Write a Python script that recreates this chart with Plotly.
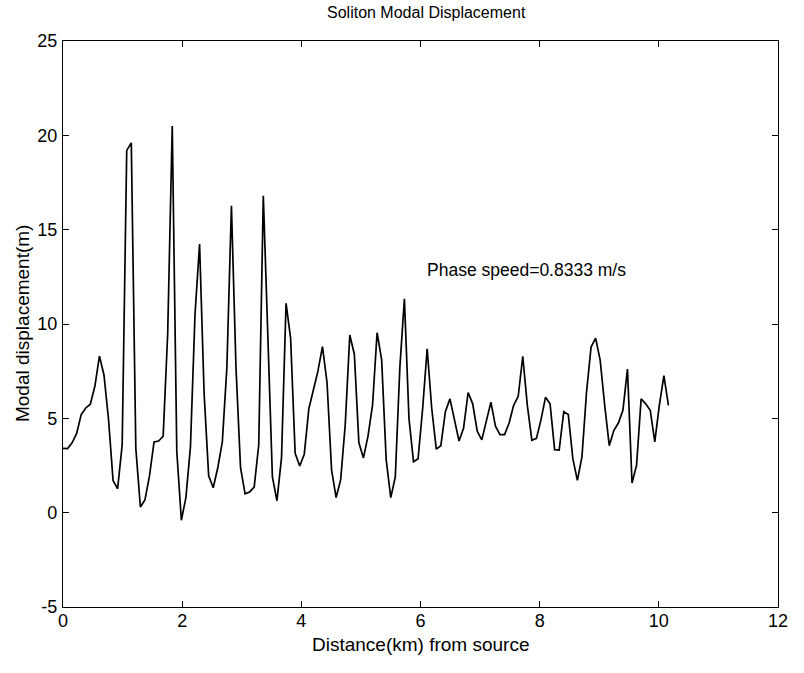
import plotly.graph_objects as go

# ---- data ----
step_km = 0.0764
displacement_m = [
    3.41, 3.40, 3.70, 4.20, 5.20, 5.55, 5.75, 6.70, 8.30, 7.30,
    4.95, 1.70, 1.27, 3.60, 19.20, 19.60, 3.40, 0.30, 0.67, 1.95,
    3.75, 3.80, 4.05, 9.50, 20.50, 3.24, -0.40, 0.80, 3.50, 10.50,
    14.24, 6.30, 1.95, 1.32, 2.38, 3.75, 7.70, 16.26, 7.70, 2.38,
    1.00, 1.10, 1.35, 3.60, 16.80, 9.40, 1.90, 0.63, 2.90, 11.10,
    9.24, 3.15, 2.47, 3.10, 5.50, 6.50, 7.50, 8.80, 6.90, 2.26,
    0.80, 1.75, 4.66, 9.42, 8.40, 3.70, 2.90, 4.06, 5.70, 9.54,
    8.10, 2.80, 0.80, 1.90, 7.70, 11.34, 5.00, 2.70, 2.86, 5.50,
    8.69, 5.52, 3.37, 3.55, 5.35, 6.03, 5.00, 3.80, 4.49, 6.37,
    5.77, 4.32, 3.86, 4.83, 5.86, 4.58, 4.14, 4.14, 4.75, 5.69,
    6.17, 8.29, 5.69, 3.84, 3.94, 4.92, 6.12, 5.77, 3.34, 3.32,
    5.35, 5.20, 2.86, 1.71, 2.95, 6.37, 8.77, 9.25, 8.09, 5.69,
    3.55, 4.35, 4.75, 5.43, 7.61, 1.57, 2.52, 6.03, 5.77, 5.43,
    3.75, 5.69, 7.26, 5.69,
]
distance_km = [round(i * step_km, 4) for i in range(len(displacement_m))]

x_tick_vals = [0, 2, 4, 6, 8, 10, 12]
x_tick_text = ["0", "2", "4", "6", "8", "10", "12"]
y_tick_vals = [-5, 0, 5, 10, 15, 20, 25]
y_tick_text = ["-5", "0", "5", "10", "15", "20", "25"]

title_text = "Soliton Modal Displacement"
x_title = "Distance(km) from source"
y_title = "Modal displacement(m)"
note_text = "Phase speed=0.8333 m/s"
note_pos = (6.08, 12.85)

FONT = "Liberation Sans, Arial, Helvetica, sans-serif"

fig = go.Figure()
fig.add_trace(go.Scatter(
    x=distance_km, y=displacement_m, mode="lines",
    line=dict(color="black", width=1.7), showlegend=False,
))

axis_common = dict(
    showline=True, linecolor="black", linewidth=1.2, mirror="ticks",
    ticks="inside", ticklen=6, tickwidth=1, tickcolor="black",
    showgrid=False, zeroline=False,
    tickfont=dict(family=FONT, size=18, color="black"),
)

fig.update_layout(
    width=804, height=673,
    margin=dict(l=63, r=26, t=41, b=66),
    paper_bgcolor="white", plot_bgcolor="white",
    xaxis=dict(range=[0, 12], tickmode="array", tickvals=x_tick_vals,
               ticktext=x_tick_text, ticklabelstandoff=-3, **axis_common),
    yaxis=dict(range=[-5, 25], tickmode="array", tickvals=y_tick_vals,
               ticktext=y_tick_text, ticklabelstandoff=1, **axis_common),
    annotations=[
        dict(text=title_text, xref="paper", yref="paper", x=0.509, y=1.0512,
             xanchor="center", yanchor="middle", showarrow=False,
             font=dict(family=FONT, size=16, color="black")),
        dict(text=x_title, xref="paper", yref="paper", x=0.5, y=-0.066,
             xanchor="center", yanchor="middle", showarrow=False,
             font=dict(family=FONT, size=19, color="black")),
        dict(text=y_title, xref="paper", yref="paper", x=-0.0573, y=0.5,
             xanchor="center", yanchor="middle", showarrow=False, textangle=-90,
             font=dict(family=FONT, size=19, color="black")),
        dict(text=note_text, xref="x", yref="y", x=note_pos[0], y=note_pos[1],
             xanchor="left", yanchor="middle", showarrow=False,
             font=dict(family=FONT, size=17.5, color="black")),
    ],
)

fig.write_html("out.html", config={"displayModeBar": False},
               post_script="document.body.style.margin='0px';")
